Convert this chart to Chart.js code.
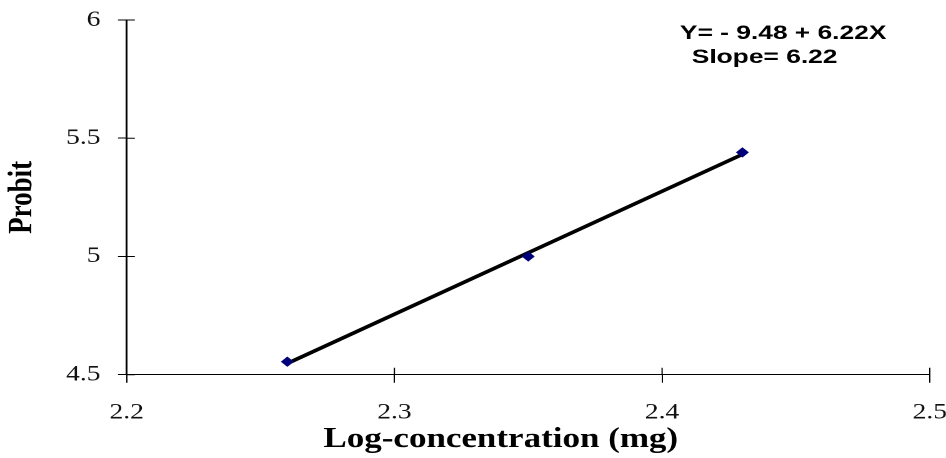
<!DOCTYPE html>
<html><head><meta charset="utf-8">
<script src="https://cdn.jsdelivr.net/npm/chart.js@4.4.1/dist/chart.umd.min.js"></script>
<style>
html,body{margin:0;padding:0;background:#fff;overflow:hidden;width:946px;height:458px}
#wrap{width:757px;height:458px;transform:scaleX(1.2497);transform-origin:0 0}
</style></head><body>
<div id="wrap"><canvas id="c" width="757" height="458"></canvas></div>
<script>
const logConc = [2.26, 2.35, 2.43];
const probit = [4.555, 5.0, 5.44];
const xTicks = [2.2, 2.3, 2.4, 2.5];
const yTicks = [4.5, 5, 5.5, 6];
const equationLines = ['Y= - 9.48 + 6.22X', 'Slope= 6.22'];
const xTitle = 'Log-concentration (mg)';
const yTitle = 'Probit';

// least-squares line through the observed points
const n = logConc.length;
const mx = logConc.reduce((a, b) => a + b, 0) / n;
const my = probit.reduce((a, b) => a + b, 0) / n;
let sxy = 0, sxx = 0;
for (let i = 0; i < n; i++) { sxy += (logConc[i] - mx) * (probit[i] - my); sxx += (logConc[i] - mx) ** 2; }
const b1 = sxy / sxx, b0 = my - b1 * mx;
const fitPts = [Math.min(...logConc), Math.max(...logConc)].map(x => ({ x, y: b0 + b1 * x }));

const innerTicks = {
  id: 'innerTicks',
  afterDraw(chart) {
    const { ctx, chartArea: a, scales: { x, y } } = chart;
    ctx.save();
    ctx.strokeStyle = '#000';
    ctx.lineWidth = 1;
    ctx.beginPath();
    xTicks.forEach(v => { const p = x.getPixelForValue(v); ctx.moveTo(p, a.bottom); ctx.lineTo(p, a.bottom - 7); });
    yTicks.forEach(v => { const p = y.getPixelForValue(v); ctx.moveTo(a.left, p); ctx.lineTo(a.left + 6.5, p); });
    ctx.stroke();
    // x-axis title
    ctx.fillStyle = '#000';
    ctx.font = 'bold 28px "Liberation Serif"';
    ctx.textAlign = 'center';
    ctx.textBaseline = 'alphabetic';
    ctx.fillText(xTitle, (a.left + a.right) / 2 - 22, 447);
    // equation text
    ctx.font = 'bold 19px "Liberation Sans"';
    ctx.textAlign = 'left';
    const pos = [[544, 39], [553.5, 63]];
    equationLines.forEach((t, i) => {
      ctx.save();
      ctx.translate(pos[i][0], pos[i][1]);
      ctx.scale(1.11, 1);
      ctx.fillText(t, 0, 0);
      ctx.restore();
    });
    ctx.restore();
  }
};

Chart.defaults.font.family = '"Liberation Serif", "Times New Roman", serif';
Chart.defaults.color = '#111';

new Chart(document.getElementById('c'), {
  type: 'scatter',
  data: {
    datasets: [
      { label: 'Observed', data: logConc.map((x, i) => ({ x, y: probit[i] })),
        pointStyle: 'rectRot', pointRadius: 5.2, pointHoverRadius: 5.2,
        backgroundColor: '#00007a', borderColor: '#00007a', borderWidth: 0, showLine: false },
      { label: 'Fit', data: fitPts, showLine: true, borderColor: '#000', borderWidth: 3.5,
        pointRadius: 0, fill: false }
    ]
  },
  options: {
    responsive: false,
    animation: false,
    devicePixelRatio: 2,
    layout: { padding: { left: 0, right: 13, top: 20, bottom: 0 } },
    plugins: { legend: { display: false }, tooltip: { enabled: false } },
    scales: {
      x: {
        type: 'linear', min: 2.2, max: 2.5,
        afterBuildTicks: s => { s.ticks = xTicks.map(v => ({ value: v })); },
        afterFit: s => { s.height = 83.3; s.paddingLeft = 0; s.paddingRight = 0; },
        grid: { drawOnChartArea: false, drawTicks: true, tickLength: 8, color: '#000', lineWidth: 1 },
        border: { display: true, color: '#000', width: 1 },
        ticks: { font: { size: 22 }, padding: 17, maxRotation: 0, autoSkip: false,
          callback: v => String(v) },
        title: { display: false }
      },
      y: {
        type: 'linear', min: 4.5, max: 6,
        afterBuildTicks: s => { s.ticks = yTicks.map(v => ({ value: v })); },
        afterFit: s => { s.width = 101.4; s.paddingTop = 0; s.paddingBottom = 0; },
        grid: { drawOnChartArea: false, drawTicks: true, tickLength: 7, color: '#000', lineWidth: 1 },
        border: { display: true, color: '#000', width: 1.5 },
        ticks: { font: { size: 22 }, padding: 14, autoSkip: false, callback: v => String(v) },
        title: { display: true, text: yTitle, color: '#000',
          font: { size: 27, weight: 'bold', lineHeight: 1 }, padding: { top: 4.5, bottom: 0 } }
      }
    }
  },
  plugins: [innerTicks]
});
</script>
</body></html>
